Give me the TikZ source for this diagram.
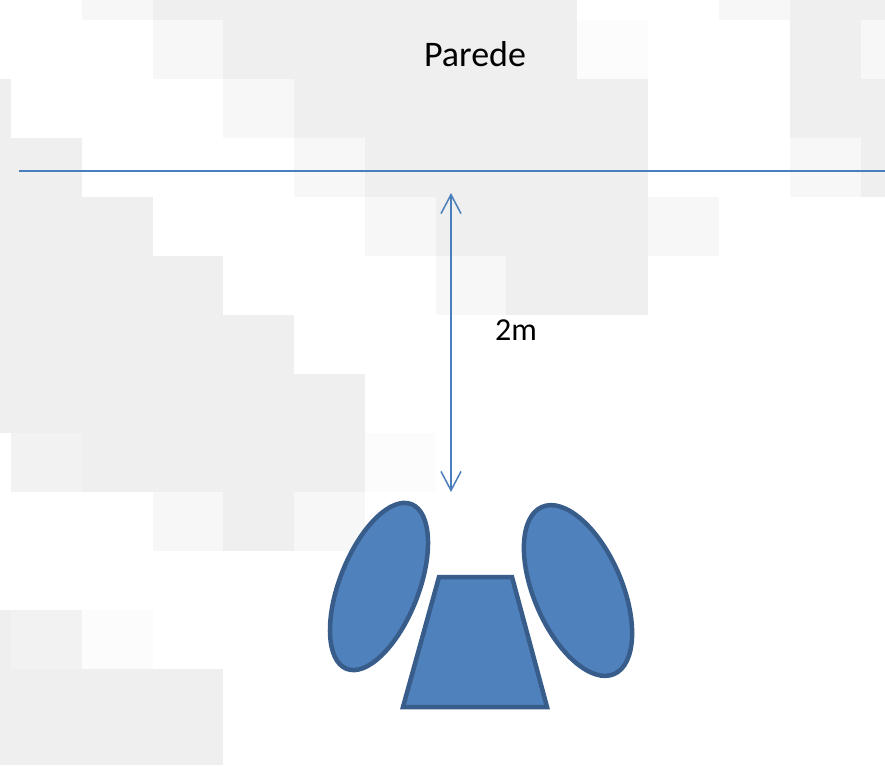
\documentclass[tikz,border=0pt]{standalone}
\usepackage{fontspec}
\setmainfont{Carlito}
\usetikzlibrary{arrows.meta,shapes.geometric}
\definecolor{tileG}{HTML}{EFEFEF}
\definecolor{tileL}{HTML}{F7F7F7}
\definecolor{tileM}{HTML}{F2F2F2}
\definecolor{tileV}{HTML}{FCFCFC}
\definecolor{shapefill}{HTML}{4F81BD}
\definecolor{shapeline}{HTML}{385D8A}
\definecolor{wallline}{HTML}{4A7EBB}
\tikzset{
  tile/.style={fill=#1, draw=none},
  seat/.style={fill=shapefill, draw=shapeline, line width=4.5pt, line join=miter},
  earshape/.style={seat, ellipse, inner sep=0pt, outer sep=0pt},
  wallstyle/.style={draw=wallline, line width=2pt},
  measure/.style={draw=wallline, line width=1.5pt, {Straight Barb[length=19pt,width=20pt,line width=1.5pt]}-{Straight Barb[length=19pt,width=20pt,line width=1.5pt]}},
  label/.style={text=black, inner sep=0pt, anchor=base}
}
\begin{document}
\begin{tikzpicture}[x=1pt, y=-1pt]
\useasboundingbox (0,0) rectangle (885,765);
\fill[white] (0,0) rectangle (885,765);
% background tiles
\foreach \c/\xa/\ya/\xb/\yb in {
  tileL/82/0/153/20, tileG/153/0/577/20, tileL/719/0/790/20, tileG/790/0/885/20,
  tileL/153/20/223/79, tileG/223/20/577/79, tileV/577/20/648/79, tileG/790/20/861/79, tileL/861/20/885/79,
  tileG/0/79/11/138, tileL/223/79/294/138, tileG/294/79/648/138, tileG/790/79/885/138,
  tileG/0/138/82/197, tileL/294/138/365/197, tileG/365/138/648/197, tileL/790/138/861/197, tileG/861/138/885/197,
  tileG/0/197/153/256, tileL/365/197/436/256, tileG/436/197/648/256, tileL/648/197/719/256,
  tileG/0/256/223/315, tileL/436/256/506/315, tileG/506/256/648/315,
  tileG/0/315/294/374,
  tileG/0/374/365/433,
  tileM/11/433/82/492, tileG/82/433/365/492, tileV/365/433/436/492,
  tileL/153/492/223/551, tileG/223/492/294/551, tileL/294/492/365/551,
  tileG/0/610/11/669, tileM/11/610/82/669, tileV/82/610/153/669,
  tileG/0/669/223/765}
  \fill[tile=\c] (\xa,\ya) rectangle (\xb,\yb);

% wall
\coordinate (wallL) at (19,171);
\coordinate (wallR) at (885,171);
\draw[wallstyle] (wallL) -- (wallR);
\node[label, font=\fontsize{36}{40}\selectfont] (parede) at (475,67) {Parede};

% distance arrow
\coordinate (arrTop) at (451,193);
\coordinate (arrBot) at (451,492);
\draw[measure] (arrTop) -- (arrBot);
\node[label, font=\fontsize{32}{36}\selectfont] (dist) at (516,340) {2m};

% person seen from above
\node[earshape, minimum width=177pt, minimum height=79pt, rotate=68.5] (leftear) at (379,586.5) {};
\node[earshape, minimum width=182pt, minimum height=88pt, rotate=113.3] (rightear) at (578,590.5) {};
\draw[seat] (439,577) -- (512,577) -- (547,707) -- (403,707) -- cycle;
\end{tikzpicture}
\end{document}
